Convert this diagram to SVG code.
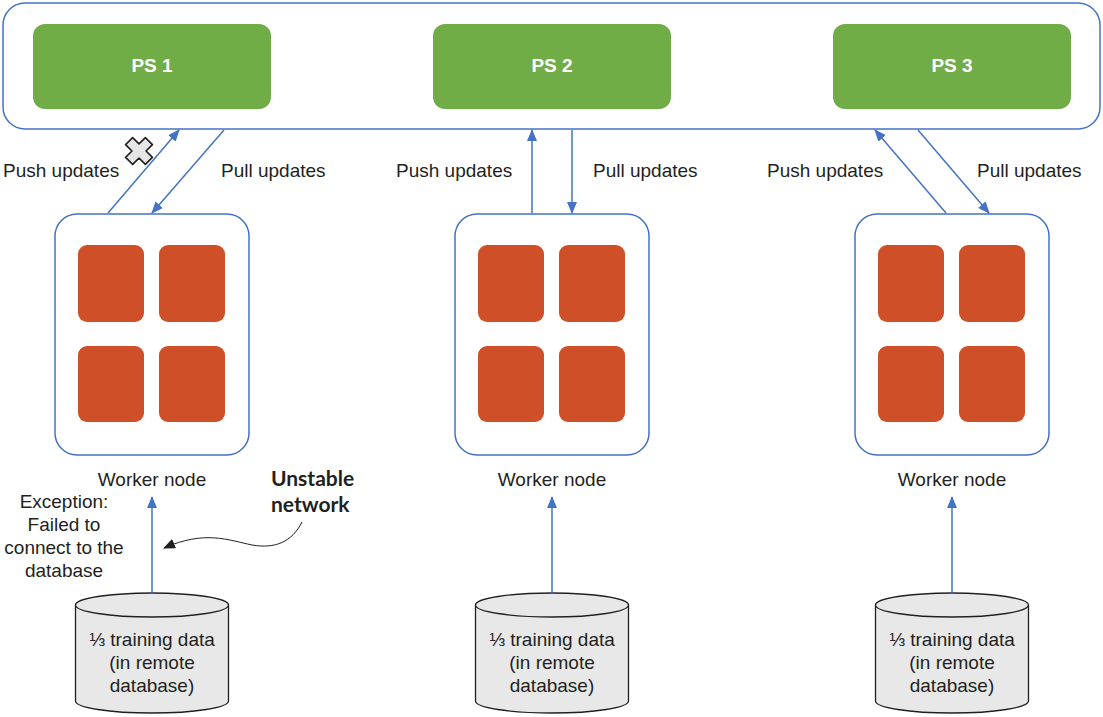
<svg xmlns="http://www.w3.org/2000/svg" width="1103" height="717" viewBox="0 0 1103 717">
<style>
.lbl{font-family:'Liberation Sans',Arimo,Arial,Helvetica,sans-serif;font-size:19px;fill:#231f20}
.ps{fill:#70ad47}
.pst{font-family:'Liberation Sans',Arimo,Arial,sans-serif;font-size:19px;font-weight:bold;fill:#fff;text-anchor:middle}
.wk{fill:#fff;stroke:#4472c4;stroke-width:1.5}
.core{fill:#cf4f29}
.cyl{fill:#e8e8e8;stroke:#231f20;stroke-width:1.3}
.conn{stroke:#4472c4;stroke-width:1.5;fill:none}
.mid{text-anchor:middle}
</style>
<defs>
<marker id="ah" markerWidth="12" markerHeight="10" refX="11" refY="5" orient="auto" markerUnits="userSpaceOnUse">
<path d="M0,0 L12,5 L0,10 Z" fill="#4472c4"/>
</marker>
<marker id="bh" markerWidth="12" markerHeight="10" refX="11" refY="5" orient="auto" markerUnits="userSpaceOnUse">
<path d="M0,0 L12,5 L0,10 Z" fill="#231f20"/>
</marker>
<g id="worker-shape">
<rect x="0" y="0" width="194" height="241" rx="22" class="wk"/>
<rect x="23" y="31" width="66" height="77" rx="9" class="core"/>
<rect x="104" y="31" width="66" height="77" rx="9" class="core"/>
<rect x="23" y="132" width="66" height="76" rx="9" class="core"/>
<rect x="104" y="132" width="66" height="76" rx="9" class="core"/>
</g>
<g id="cyl-shape">
<path d="M0,605 L0,701 A76.5,12 0 0 0 153,701 L153,605" class="cyl"/>
<ellipse cx="76.5" cy="605" rx="76.5" ry="12" class="cyl"/>
</g>
</defs>

<g id="ps-container">
<rect x="3" y="3" width="1097" height="126" rx="22" fill="#fff" stroke="#4472c4" stroke-width="1.5"/>
</g>
<g id="ps1"><rect x="33" y="24" width="238" height="85" rx="12" class="ps"/><text x="152" y="72" class="pst">PS 1</text></g>
<g id="ps2"><rect x="433" y="24" width="238" height="85" rx="12" class="ps"/><text x="552" y="72" class="pst">PS 2</text></g>
<g id="ps3"><rect x="833" y="24" width="238" height="85" rx="12" class="ps"/><text x="952" y="72" class="pst">PS 3</text></g>

<g id="worker1"><use href="#worker-shape" x="55" y="214"/><text x="152" y="486" class="lbl mid" font-size="19.5">Worker node</text></g>
<g id="worker2"><use href="#worker-shape" x="455" y="214"/><text x="552" y="486" class="lbl mid" font-size="19.5">Worker node</text></g>
<g id="worker3"><use href="#worker-shape" x="855" y="214"/><text x="952" y="486" class="lbl mid" font-size="19.5">Worker node</text></g>

<g id="db1"><use href="#cyl-shape" x="75.5" y="0"/>
<text class="lbl mid"><tspan x="152" y="646">⅓ training data</tspan><tspan x="152" y="669">(in remote</tspan><tspan x="152" y="692">database)</tspan></text></g>
<g id="db2"><use href="#cyl-shape" x="475.5" y="0"/>
<text class="lbl mid"><tspan x="552" y="646">⅓ training data</tspan><tspan x="552" y="669">(in remote</tspan><tspan x="552" y="692">database)</tspan></text></g>
<g id="db3"><use href="#cyl-shape" x="875.5" y="0"/>
<text class="lbl mid"><tspan x="952" y="646">⅓ training data</tspan><tspan x="952" y="669">(in remote</tspan><tspan x="952" y="692">database)</tspan></text></g>

<g id="connectors">
<line x1="108" y1="213" x2="179" y2="130" class="conn" marker-end="url(#ah)"/>
<line x1="224" y1="130" x2="152" y2="213" class="conn" marker-end="url(#ah)"/>
<line x1="532" y1="213" x2="532" y2="130" class="conn" marker-end="url(#ah)"/>
<line x1="572" y1="130" x2="572" y2="213" class="conn" marker-end="url(#ah)"/>
<line x1="946" y1="213" x2="875" y2="130" class="conn" marker-end="url(#ah)"/>
<line x1="918" y1="130" x2="989" y2="213" class="conn" marker-end="url(#ah)"/>
<line x1="152" y1="593" x2="152" y2="497" class="conn" marker-end="url(#ah)"/>
<line x1="552" y1="593" x2="552" y2="497" class="conn" marker-end="url(#ah)"/>
<line x1="952" y1="593" x2="952" y2="497" class="conn" marker-end="url(#ah)"/>
<path d="M302,522 C292,542 275,549 252,545 C228,540 205,530 164,548" fill="none" stroke="#231f20" stroke-width="1" marker-end="url(#bh)"/>
</g>

<g id="labels">
<text x="3" y="177" class="lbl">Push updates</text>
<text x="221" y="177" class="lbl">Pull updates</text>
<text x="396" y="177" class="lbl">Push updates</text>
<text x="593" y="177" class="lbl">Pull updates</text>
<text x="767" y="177" class="lbl">Push updates</text>
<text x="977" y="177" class="lbl">Pull updates</text>
<text class="lbl mid" font-size="20"><tspan x="64" y="508">Exception:</tspan><tspan x="64" y="531">Failed to</tspan><tspan x="64" y="554">connect to the</tspan><tspan x="64" y="577">database</tspan></text>
<text font-family="Lato,'Liberation Sans',sans-serif" font-size="21" font-weight="bold" fill="#231f20"><tspan x="271" y="486">Unstable</tspan><tspan x="271" y="512">network</tspan></text>
</g>

<g id="fail-mark" transform="translate(139,151) rotate(45)">
<path d="M-5,-14 H5 V-5 H14 V5 H5 V14 H-5 V5 H-14 V-5 H-5 Z" fill="#e6e6e6" stroke="#231f20" stroke-width="1.6" stroke-linejoin="round"/>
</g>
</svg>
